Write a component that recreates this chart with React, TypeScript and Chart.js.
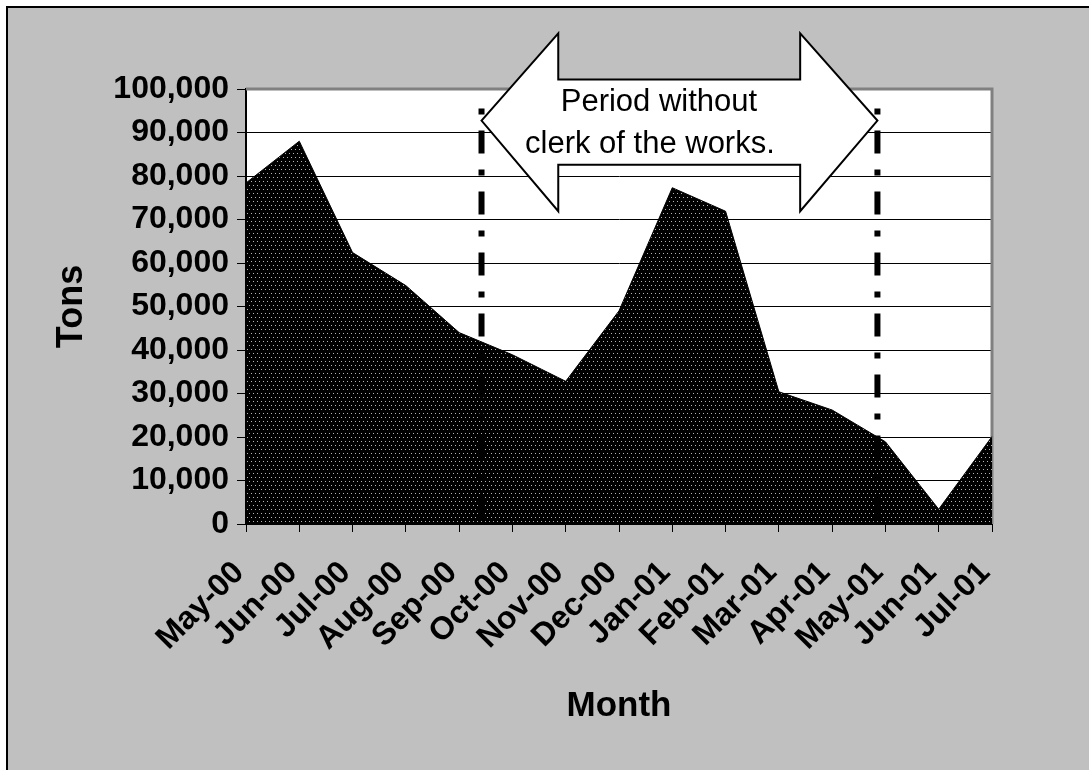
import React, { useEffect, useRef } from "react";
import { Chart, registerables } from "chart.js";

Chart.register(...registerables);

// ---------- data ----------
const MONTHS = [
  "May-00", "Jun-00", "Jul-00", "Aug-00", "Sep-00", "Oct-00", "Nov-00", "Dec-00",
  "Jan-01", "Feb-01", "Mar-01", "Apr-01", "May-01", "Jun-01", "Jul-01",
];
const TONS = [
  78400, 88000, 62400, 54800, 44000, 38900, 32800, 49000,
  77300, 71900, 30400, 26200, 18900, 3400, 20100,
];
const Y_MIN = 0;
const Y_MAX = 100000;
const Y_STEP = 10000;
const Y_TITLE = "Tons";
const X_TITLE = "Month";
const ARROW_TEXT = ["Period without", "clerk of the works."];

// period markers (category index position) and their top value
const PERIOD_MARKERS = [4.42, 11.85];
const MARKER_TOP = 95500;

// annotation arrow geometry, in data units (x: category index, y: tons)
const ARROW = {
  leftTip: 4.42,
  rightTip: 11.85,
  leftBase: 5.86,
  rightBase: 10.4,
  tipY: 92750,
  headTop: 112800,
  headBottom: 71900,
  shaftTop: 102200,
  shaftBottom: 82600,
};
const ARROW_TEXT_X = [7.75, 7.58];
const ARROW_TEXT_Y = [94900, 85400];

const FONT = "'Liberation Sans', Arial, Helvetica, sans-serif";

function makePattern(): CanvasPattern | string {
  const c = document.createElement("canvas");
  c.width = 4;
  c.height = 8;
  const g = c.getContext("2d");
  if (!g) return "#000";
  g.fillStyle = "#000";
  g.fillRect(0, 0, 4, 8);
  g.fillStyle = "#b4b4b4";
  g.fillRect(1, 1, 1, 1);
  g.fillRect(3, 5, 1, 1);
  return g.createPattern(c, "repeat") || "#000";
}

const framePlugin = {
  id: "frame",
  beforeDraw(chart: any) {
    const { ctx, width, height, chartArea } = chart;
    ctx.save();
    ctx.fillStyle = "#ffffff";
    ctx.fillRect(0, 0, width, height);
    ctx.fillStyle = "#c0c0c0";
    ctx.fillRect(7, 7, width, height);
    ctx.strokeStyle = "#000";
    ctx.lineWidth = 2;
    ctx.strokeRect(7, 7, width + 20, height + 20);
    ctx.fillStyle = "#ffffff";
    ctx.fillRect(chartArea.left, chartArea.top, chartArea.right - chartArea.left, chartArea.bottom - chartArea.top);
    ctx.restore();
  },
  beforeDatasetsDraw(chart: any) {
    const { ctx, chartArea } = chart;
    ctx.save();
    ctx.strokeStyle = "#808080";
    ctx.lineWidth = 3;
    ctx.beginPath();
    ctx.moveTo(chartArea.left, chartArea.top);
    ctx.lineTo(chartArea.right, chartArea.top);
    ctx.lineTo(chartArea.right, chartArea.bottom);
    ctx.stroke();
    ctx.restore();
  },
  afterDraw(chart: any) {
    const { ctx, chartArea } = chart;
    const xs = chart.scales.x;
    const ys = chart.scales.y;
    ctx.save();

    // dash-dot period markers
    ctx.strokeStyle = "#000";
    ctx.lineWidth = 6;
    ctx.lineCap = "butt";
    ctx.setLineDash([6, 16, 23, 16]);
    PERIOD_MARKERS.forEach((m) => {
      const px = xs.getPixelForValue(m);
      ctx.beginPath();
      ctx.moveTo(px, ys.getPixelForValue(MARKER_TOP));
      ctx.lineTo(px, chartArea.bottom);
      ctx.stroke();
    });
    ctx.setLineDash([]);

    // double arrow
    const X = (v: number) => xs.getPixelForValue(v);
    const Y = (v: number) => ys.getPixelForValue(v);
    const pts: [number, number][] = [
      [X(ARROW.leftTip), Y(ARROW.tipY)],
      [X(ARROW.leftBase), Y(ARROW.headTop)],
      [X(ARROW.leftBase), Y(ARROW.shaftTop)],
      [X(ARROW.rightBase), Y(ARROW.shaftTop)],
      [X(ARROW.rightBase), Y(ARROW.headTop)],
      [X(ARROW.rightTip), Y(ARROW.tipY)],
      [X(ARROW.rightBase), Y(ARROW.headBottom)],
      [X(ARROW.rightBase), Y(ARROW.shaftBottom)],
      [X(ARROW.leftBase), Y(ARROW.shaftBottom)],
      [X(ARROW.leftBase), Y(ARROW.headBottom)],
    ];
    ctx.beginPath();
    pts.forEach(([a, b], i) => (i === 0 ? ctx.moveTo(a, b) : ctx.lineTo(a, b)));
    ctx.closePath();
    ctx.fillStyle = "#fff";
    ctx.fill();
    ctx.lineWidth = 2;
    ctx.lineJoin = "miter";
    ctx.strokeStyle = "#000";
    ctx.stroke();

    ctx.fillStyle = "#000";
    ctx.font = `31px ${FONT}`;
    ctx.textAlign = "center";
    ctx.textBaseline = "alphabetic";
    ARROW_TEXT.forEach((t, i) => {
      ctx.fillText(t, X(ARROW_TEXT_X[i]), Y(ARROW_TEXT_Y[i]));
    });

    // axis titles
    ctx.font = `bold 35px ${FONT}`;
    ctx.fillText(X_TITLE, (chartArea.left + chartArea.right) / 2, 716);
    ctx.font = `bold 36px ${FONT}`;
    ctx.translate(82, (chartArea.top + chartArea.bottom) / 2);
    ctx.rotate(-Math.PI / 2);
    ctx.fillText(Y_TITLE, 0, 0);
    ctx.restore();
  },
};

export default function App() {
  const ref = useRef<HTMLCanvasElement | null>(null);

  useEffect(() => {
    if (!ref.current) return;
    const pattern = makePattern();
    const chart = new Chart(ref.current, {
      type: "line",
      data: {
        labels: MONTHS,
        datasets: [
          {
            label: "Tons",
            data: TONS,
            borderColor: "#000",
            borderWidth: 1,
            backgroundColor: pattern as any,
            fill: "origin",
            tension: 0,
            pointRadius: 0,
          },
        ],
      },
      options: {
        responsive: false,
        animation: false,
        devicePixelRatio: 1,
        layout: { padding: { left: 0, right: 97, top: 89, bottom: 0 } },
        plugins: {
          legend: { display: false },
          tooltip: { enabled: false },
        },
        scales: {
          x: {
            type: "category",
            offset: false,
            grid: {
              drawOnChartArea: false,
              drawTicks: true,
              tickLength: 8,
              color: "#000",
              lineWidth: 1,
            },
            border: { color: "#000", width: 2 },
            ticks: {
              autoSkip: false,
              minRotation: 45,
              maxRotation: 45,
              color: "#000",
              padding: 22,
              labelOffset: -7,
              font: { family: FONT, size: 32, weight: "bold" },
            },
            afterFit: (s: any) => {
              s.height = 770 - 524;
            },
          },
          y: {
            min: Y_MIN,
            max: Y_MAX,
            ticks: {
              stepSize: Y_STEP,
              color: "#000",
              padding: 8,
              font: { family: FONT, size: 32, weight: "bold" },
              callback: (v: any) => Number(v).toLocaleString("en-US"),
            },
            grid: { color: "#000", lineWidth: 1, tickLength: 9, drawTicks: true },
            border: { color: "#000", width: 2 },
            afterFit: (s: any) => {
              s.width = 246;
            },
          },
        },
      },
      plugins: [framePlugin],
    });
    return () => chart.destroy();
  }, []);

  return (
    <div style={{ position: "fixed", left: 0, top: 0, width: 1089, height: 770 }}>
      <canvas ref={ref} width={1089} height={770} style={{ display: "block" }} />
    </div>
  );
}
